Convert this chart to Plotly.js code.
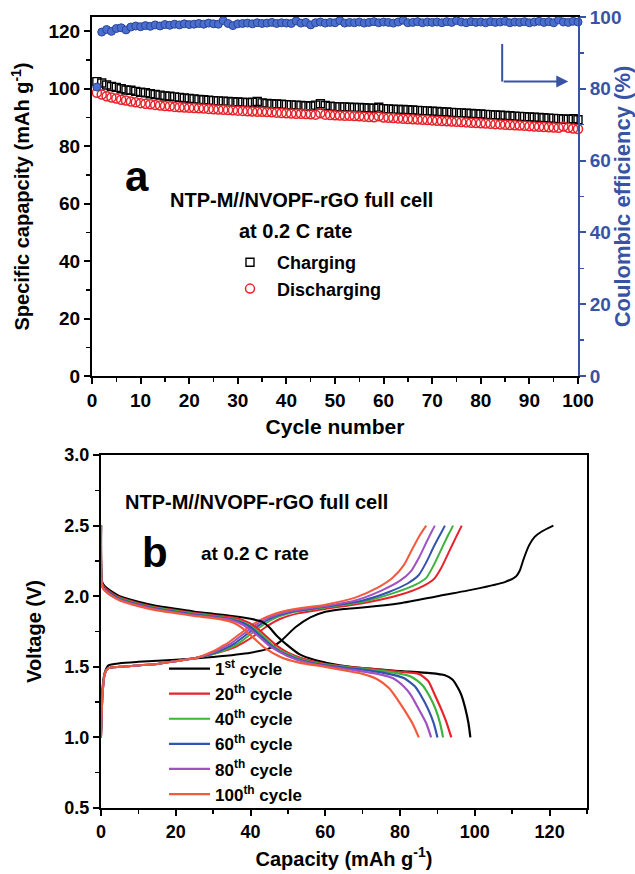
<!DOCTYPE html>
<html><head><meta charset="utf-8">
<script src="https://cdn.plot.ly/plotly-3.0.1.min.js"></script>
<style>html,body{margin:0;padding:0;background:#fff}#c{width:635px;height:874px}</style>
</head><body><div id="c"></div>
<script>
// ---------- Panel a: cycling data ----------
const cycles = Array.from({length:100},(_,i)=>i+1);
const charging = [102.5,102.0,101.3,100.8,100.5,100.0,99.6,99.5,99.1,98.8,
98.6,98.3,98.0,97.8,97.5,97.4,97.2,97.0,96.8,96.6,
96.5,96.3,96.2,96.0,95.9,95.8,95.7,95.6,95.5,95.4,
95.3,95.2,95.3,95.6,95.1,94.9,94.8,94.7,94.6,94.5,
94.4,94.3,94.2,94.1,94.0,94.3,94.8,94.2,93.9,93.8,
93.7,93.7,93.6,93.5,93.5,93.4,93.3,93.2,93.6,93.1,
93.0,92.9,92.8,92.8,92.7,92.6,92.5,92.4,92.3,92.2,
92.1,92.0,91.9,91.8,91.7,91.6,91.5,91.4,91.3,91.2,
91.1,91.0,90.9,90.8,90.7,90.6,90.5,90.4,90.3,90.2,
90.1,90.0,89.9,89.8,89.7,89.6,89.5,89.4,89.6,89.2];
const discharging = [98.6,98.0,97.4,97.0,96.6,96.2,95.9,95.6,95.3,95.0,
94.8,94.6,94.4,94.2,94.0,93.9,93.7,93.6,93.5,93.4,
93.3,93.2,93.1,93.0,92.9,92.8,92.7,92.6,92.5,92.4,
92.3,92.2,92.1,92.0,92.0,91.9,91.8,91.7,91.6,91.5,
91.4,91.3,91.3,91.2,91.1,91.0,91.5,91.0,90.9,90.8,
90.7,90.6,90.6,90.5,90.4,90.3,90.2,90.1,90.4,90.0,
89.9,89.8,89.7,89.6,89.5,89.4,89.3,89.2,89.1,89.0,
88.9,88.8,88.7,88.6,88.5,88.4,88.3,88.2,88.1,88.0,
87.9,87.8,87.7,87.6,87.5,87.4,87.3,87.2,87.1,87.0,
86.9,86.8,86.7,86.6,86.5,86.4,86.9,86.4,86.2,86.0];
const coulombic = [80.5,95.8,96.5,96.0,96.8,97.0,96.4,97.2,97.5,97.3,
97.6,97.4,97.8,97.5,97.9,97.7,98.0,97.8,98.1,97.9,
98.0,98.2,98.0,98.3,98.1,98.0,99.0,98.2,97.6,98.1,
98.2,98.3,98.1,98.4,98.2,98.3,98.5,98.2,98.4,98.3,
98.2,98.9,98.3,98.5,97.8,98.4,98.6,98.3,98.5,98.4,
99.0,98.3,98.5,98.4,98.6,98.3,98.5,98.7,98.4,98.6,
98.5,98.3,98.6,99.1,98.4,98.5,98.7,98.4,98.6,98.5,
98.6,98.4,98.7,98.5,99.0,98.6,98.4,98.7,98.5,98.6,
98.4,98.7,98.5,98.6,98.8,98.4,98.6,98.5,98.7,98.4,
98.6,98.8,98.5,98.7,98.4,99.2,98.6,98.5,98.8,98.6];

// ---------- Panel b: voltage profiles ----------
const cycleNames = ['1st','20th','40th','60th','80th','100th'];
const cycleColors = ['#000000','#e8222a','#3db33d','#3452b0','#a052c2','#f25a3d'];

const chgCap1 = [0,0.4,1,2,5,10,20,30,40,45,48,52,56,60,65,70,80,90,100,108,111,112,113,114.5,116,118,121];
const chgV1   = [1.0,1.35,1.46,1.51,1.525,1.535,1.55,1.57,1.6,1.63,1.68,1.78,1.85,1.89,1.91,1.92,1.95,2.0,2.05,2.1,2.14,2.18,2.26,2.36,2.42,2.46,2.5];
const chgCap20 = [0,0.4,1,2,5,10,15,20,25,30,35,38,41,44,48,53,60,70,80,86,89,91,93,95,96.5];
const chgV20   = [1.0,1.3,1.45,1.49,1.5,1.51,1.52,1.54,1.56,1.59,1.63,1.67,1.72,1.78,1.84,1.88,1.91,1.95,2.01,2.07,2.12,2.2,2.31,2.42,2.5];
const chgCap40 = [0,0.4,1,2,5,10,15,20,25,30,35,37,40,43,47,52,60,70,78,84,87,89,91,93,94.2];
const chgV40   = [1.0,1.3,1.45,1.49,1.5,1.51,1.52,1.54,1.56,1.59,1.64,1.67,1.73,1.79,1.85,1.89,1.92,1.96,2.02,2.08,2.13,2.22,2.33,2.44,2.5];
const chgCap60 = [0,0.4,1,2,5,10,15,20,25,30,34,36,39,42,46,51,60,70,77,82,85,87,89,91,92];
const chgV60   = [1.0,1.3,1.45,1.49,1.5,1.51,1.52,1.54,1.56,1.595,1.64,1.67,1.73,1.79,1.85,1.89,1.925,1.97,2.03,2.09,2.15,2.24,2.35,2.45,2.5];
const chgCap80 = [0,0.4,1,2,5,10,15,20,25,30,33,35,38,41,45,50,60,68,75,80,83,85,87,88.5,89.3];
const chgV80   = [1.0,1.3,1.45,1.49,1.5,1.51,1.52,1.54,1.56,1.6,1.64,1.67,1.73,1.79,1.85,1.89,1.93,1.97,2.04,2.11,2.18,2.27,2.38,2.46,2.5];
const chgCap100 = [0,0.4,1,2,5,10,15,20,25,30,32,34,37,40,44,50,60,68,74,78,81,83,85,86.2,87];
const chgV100   = [1.0,1.3,1.45,1.49,1.5,1.51,1.52,1.54,1.56,1.61,1.64,1.67,1.73,1.79,1.85,1.9,1.94,1.99,2.06,2.13,2.22,2.32,2.42,2.47,2.5];

const disCap1 = [0,0.3,1,3,5,10,15,20,25,30,35,40,43,45,47,50,53,57,62,70,80,88,92,94,95.5,96.4,97.5,98.3,98.8];
const disV1   = [2.5,2.1,2.07,2.03,2.0,1.96,1.93,1.91,1.89,1.875,1.86,1.84,1.82,1.78,1.72,1.65,1.59,1.55,1.52,1.49,1.47,1.455,1.44,1.41,1.35,1.3,1.2,1.1,1.0];
const disCap20 = [0,0.3,1,3,5,10,15,20,25,30,35,38,41,44,47,50,55,60,70,80,85,87.5,89.3,91,92.5,93.7];
const disV20   = [2.5,2.09,2.06,2.02,1.99,1.95,1.92,1.9,1.88,1.865,1.85,1.83,1.79,1.72,1.65,1.6,1.55,1.52,1.49,1.465,1.45,1.4,1.3,1.2,1.1,1.0];
const disCap40 = [0,0.3,1,3,5,10,15,20,25,30,35,38,41,44,47,50,55,60,70,78,83,86,87.7,89.5,90.7,91.5];
const disV40   = [2.5,2.08,2.05,2.01,1.985,1.945,1.915,1.895,1.875,1.86,1.84,1.815,1.77,1.7,1.63,1.59,1.54,1.515,1.485,1.46,1.43,1.37,1.3,1.2,1.1,1.0];
const disCap60 = [0,0.3,1,3,5,10,15,20,25,30,35,38,40,43,46,50,55,60,70,76,81,84,85.5,87.5,89,90];
const disV60   = [2.5,2.08,2.05,2.01,1.98,1.94,1.91,1.89,1.87,1.855,1.835,1.81,1.78,1.71,1.64,1.58,1.535,1.51,1.48,1.455,1.42,1.36,1.3,1.2,1.1,1.0];
const disCap80 = [0,0.3,1,3,5,10,15,20,25,30,35,37,39,42,45,50,55,60,68,74,78,81,82.9,85,87,88.3];
const disV80   = [2.5,2.07,2.04,2.0,1.975,1.935,1.905,1.885,1.865,1.85,1.83,1.81,1.78,1.72,1.65,1.575,1.53,1.505,1.475,1.45,1.42,1.36,1.3,1.2,1.1,1.0];
const disCap100 = [0,0.3,1,3,5,10,15,20,25,30,34,36,38,41,44,48,53,60,66,70,74,77,78.5,81,83.3,85];
const disV100   = [2.5,2.07,2.04,2.0,1.97,1.93,1.9,1.88,1.86,1.845,1.825,1.805,1.77,1.7,1.63,1.57,1.53,1.5,1.47,1.45,1.41,1.35,1.3,1.2,1.1,1.0];

const chgCaps = [chgCap1,chgCap20,chgCap40,chgCap60,chgCap80,chgCap100];
const chgVs   = [chgV1,chgV20,chgV40,chgV60,chgV80,chgV100];
const disCaps = [disCap1,disCap20,disCap40,disCap60,disCap80,disCap100];
const disVs   = [disV1,disV20,disV40,disV60,disV80,disV100];

// ---------- Build ----------
const FONT = 'Liberation Sans, Arial, Helvetica, sans-serif';
const BLUE = '#3953a4';
const W = 635, H = 874;
const px = v => v / W, py = v => 1 - v / H;
const bf = (size, color) => ({family:FONT, size:size, weight:'bold', color:color || '#000'});

const traces = [];
traces.push({x: cycles, y: charging, type:'scatter', mode:'markers', name:'Charging', xaxis:'x', yaxis:'y',
  cliponaxis:false, legend:'legend', legendgroup:'a1',
  marker:{symbol:'square-open', size:8, color:'#000', line:{width:1.4}}});
traces.push({x: cycles, y: discharging, type:'scatter', mode:'markers', name:'Discharging', xaxis:'x', yaxis:'y',
  cliponaxis:false, legend:'legend', legendgroup:'a2',
  marker:{symbol:'circle-open', size:9, color:'#e8222a', line:{width:1.5}}});
traces.push({x: cycles, y: coulombic, type:'scatter', mode:'markers', name:'Coulombic efficiency', xaxis:'x', yaxis:'y2',
  cliponaxis:false, showlegend:false,
  marker:{symbol:'circle', size:8, color:'#4a6fd0', line:{width:1, color:'#2b4596'}}});

for (let i=0;i<6;i++){
  traces.push({x: chgCaps[i], y: chgVs[i], type:'scatter', mode:'lines', xaxis:'x2', yaxis:'y3',
    name:'ch'+i, showlegend:false, line:{color:cycleColors[i], width:2, shape:'spline', smoothing:0.6}});
}
for (let i=0;i<6;i++){
  traces.push({x: disCaps[i], y: disVs[i], type:'scatter', mode:'lines', xaxis:'x2', yaxis:'y3',
    name: cycleNames[i].replace(/(\d+)(st|th)/,'$1<sup>$2</sup>') + ' cycle',
    legend:'legend2', legendgroup:'b'+i,
    line:{color:cycleColors[i], width:2.2, shape:'spline', smoothing:0.6}});
}

const baseAxis = {showline:true, linewidth:2, linecolor:'#000', ticks:'outside', ticklen:6, tickwidth:2,
  tickcolor:'#000', showgrid:false, zeroline:false, automargin:false};
const minorT = (d, c) => ({dtick:d, ticks:'outside', ticklen:4, tickwidth:1.5, tickcolor:c || '#000'});

const layout = {
  width:W, height:H, margin:{l:0,r:0,t:0,b:0}, paper_bgcolor:'#fff', plot_bgcolor:'#fff',
  showlegend:true,
  xaxis: Object.assign({}, baseAxis, {domain:[px(92),px(578)], range:[0,100], dtick:10, mirror:true,
    tickfont:bf(19), minor:minorT(5),
    title:{text:'Cycle number', font:bf(21), standoff:10}, anchor:'y'}),
  yaxis: Object.assign({}, baseAxis, {domain:[py(376),py(17)], range:[0,125], dtick:20,
    tickfont:bf(19), minor:minorT(10),
    title:{text:'Specific capapcity (mAh g<sup>-1</sup>)', font:bf(20), standoff:13}, anchor:'x'}),
  yaxis2: Object.assign({}, baseAxis, {overlaying:'y', side:'right', range:[0,100], dtick:20,
    linecolor:BLUE, tickcolor:BLUE, tickfont:bf(19, BLUE), minor:minorT(10, BLUE),
    title:{text:'Coulombic efficiency (%)', font:bf(22, BLUE), standoff:4}, anchor:'x'}),
  xaxis2: Object.assign({}, baseAxis, {domain:[px(101),px(587)], range:[0,130], dtick:20, mirror:true,
    tickfont:bf(18), minor:minorT(10),
    title:{text:'Capacity (mAh g<sup>-1</sup>)', font:bf(20), standoff:11}, anchor:'y3'}),
  yaxis3: Object.assign({}, baseAxis, {domain:[py(808),py(455)], range:[0.5,3.0], dtick:0.5, tickformat:'.1f', mirror:true,
    tickfont:bf(18), minor:minorT(0.25),
    title:{text:'Voltage (V)', font:bf(20), standoff:17}, anchor:'x2'}),
  legend: {x:px(223), y:py(244), xanchor:'left', yanchor:'top', bgcolor:'rgba(0,0,0,0)',
    font:bf(18), tracegroupgap:0, itemwidth:44},
  legend2: {x:px(164), y:py(651), xanchor:'left', yanchor:'top', bgcolor:'rgba(0,0,0,0)',
    font:bf(17), tracegroupgap:0, itemwidth:41},
  annotations: [
    {xref:'paper', yref:'paper', x:px(137), y:py(176), xanchor:'center', yanchor:'middle', text:'a', showarrow:false,
      font:bf(42)},
    {xref:'paper', yref:'paper', x:px(168), y:py(200), xanchor:'left', yanchor:'middle', text:'NTP-M//NVOPF-rGO full cell', showarrow:false,
      font:bf(20)},
    {xref:'paper', yref:'paper', x:px(237), y:py(231), xanchor:'left', yanchor:'middle', text:'at 0.2 C rate', showarrow:false,
      font:bf(20)},
    {xref:'paper', yref:'paper', x:px(123), y:py(502), xanchor:'left', yanchor:'middle', text:'NTP-M//NVOPF-rGO full cell', showarrow:false,
      font:bf(20)},
    {xref:'paper', yref:'paper', x:px(155), y:py(552), xanchor:'center', yanchor:'middle', text:'b', showarrow:false,
      font:bf(42)},
    {xref:'paper', yref:'paper', x:px(199), y:py(553), xanchor:'left', yanchor:'middle', text:'at 0.2 C rate', showarrow:false,
      font:bf(19)},
    {xref:'x', yref:'y2', x:98, y:82, ax:84.4, ay:82, axref:'x', ayref:'y2', text:'', showarrow:true,
      arrowhead:2, arrowsize:1.2, arrowwidth:2, arrowcolor:BLUE}
  ],
  shapes: [
    {type:'line', xref:'x', yref:'y2', x0:84.4, x1:84.4, y0:92.5, y1:82, line:{color:BLUE, width:2}}
  ]
};

Plotly.newPlot('c', traces, layout, {displayModeBar:false, staticPlot:true});
</script></body></html>
